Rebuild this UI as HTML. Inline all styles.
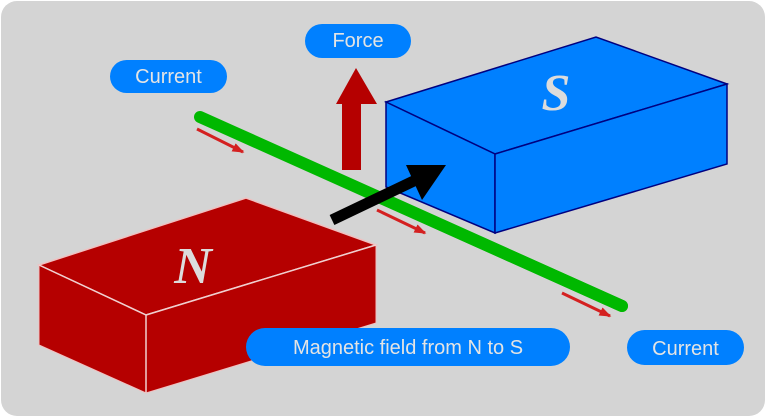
<!DOCTYPE html>
<html><head><style>
html,body{margin:0;padding:0;background:#fff;}
svg{display:block;}
.s{font-family:"Liberation Sans",sans-serif;}
.m{font-family:"Liberation Serif",serif;font-style:italic;font-weight:bold;}
</style></head><body>
<svg width="767" height="418" viewBox="0 0 767 418" xmlns="http://www.w3.org/2000/svg">
<defs>
<marker id="ra" markerWidth="4" markerHeight="3" refX="3.5" refY="1.5" orient="auto" markerUnits="strokeWidth"><path d="M0,0 L4,1.5 L0,3 z" fill="#d42020"/></marker>
</defs>
<rect x="1" y="1" width="764" height="415" rx="16" fill="#d4d4d4"/>
<!-- N magnet -->
<polygon points="39,265 246,198 376,245 146,315" fill="#b50000" stroke="#f0c0c0" stroke-width="1.5"/>
<polygon points="39,265 146,315 146,393 39,345" fill="#b50000" stroke="#f0c0c0" stroke-width="1"/>
<polygon points="146,315 376,245 376,323 146,393" fill="#b50000" stroke="#f0c0c0" stroke-width="1"/>
<line x1="39" y1="265" x2="146" y2="315" stroke="#f0d0d0" stroke-width="1.5"/>
<line x1="146" y1="315" x2="376" y2="245" stroke="#f0d0d0" stroke-width="1.5"/>
<line x1="146" y1="315" x2="146" y2="393" stroke="#f0d0d0" stroke-width="1.5"/>
<text x="193" y="283" class="m" font-size="52" fill="#dcdcdc" text-anchor="middle">N</text>
<!-- force arrow -->
<rect x="342" y="103" width="19" height="67" fill="#b50000"/>
<polygon points="336,104 377,104 356,68" fill="#b50000"/>
<!-- wire -->
<line x1="200" y1="117" x2="622" y2="306" stroke="#00b800" stroke-width="12" stroke-linecap="round"/>
<!-- S magnet -->
<polygon points="386,102 596,37 727,84 495,154" fill="#0080ff" stroke="#000080" stroke-width="1.5"/>
<polygon points="386,102 495,154 495,233 386,187" fill="#0080ff" stroke="#000080" stroke-width="1.5"/>
<polygon points="495,154 727,84 727,164 495,233" fill="#0080ff" stroke="#000080" stroke-width="1.5"/>
<text x="556" y="110" class="m" font-size="52" fill="#dcdcdc" text-anchor="middle">S</text>
<line x1="386" y1="200" x2="622" y2="306" stroke="#00b800" stroke-width="12" stroke-linecap="round"/>
<!-- current arrows -->
<line x1="197" y1="129" x2="243" y2="152" stroke="#d42020" stroke-width="3" marker-end="url(#ra)"/>
<line x1="377" y1="210" x2="425" y2="233" stroke="#d42020" stroke-width="3" marker-end="url(#ra)"/>
<line x1="562" y1="293" x2="610" y2="316" stroke="#d42020" stroke-width="3" marker-end="url(#ra)"/>
<!-- black field arrow -->
<line x1="332" y1="220" x2="420" y2="178" stroke="#000" stroke-width="11"/>
<polygon points="406,165 446,165 422,200" fill="#000"/>
<!-- labels -->
<rect x="110" y="60" width="117" height="33" rx="16.5" fill="#0080ff"/>
<text x="168.5" y="83" class="s" font-size="20" fill="#e4e4e4" text-anchor="middle">Current</text>
<rect x="305" y="24" width="106" height="34" rx="17" fill="#0080ff"/>
<text x="358" y="47" class="s" font-size="20" fill="#e4e4e4" text-anchor="middle">Force</text>
<rect x="627" y="330" width="117" height="35" rx="17.5" fill="#0080ff"/>
<text x="685.5" y="355" class="s" font-size="20" fill="#e4e4e4" text-anchor="middle">Current</text>
<rect x="246" y="328" width="324" height="38" rx="19" fill="#0080ff"/>
<text x="408" y="354" class="s" font-size="20" fill="#e4e4e4" text-anchor="middle">Magnetic field from N to S</text>
</svg>
</body></html>
